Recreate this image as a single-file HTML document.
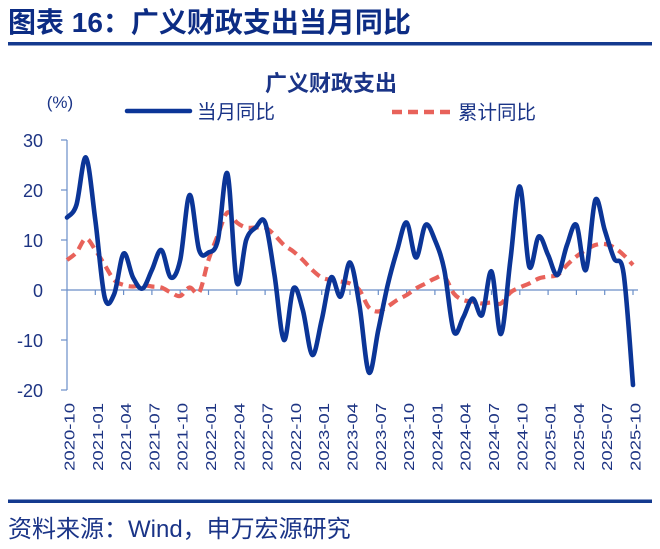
<!DOCTYPE html>
<html>
<head>
<meta charset="utf-8">
<style>
html,body{margin:0;padding:0;background:#fff;}
body{width:660px;height:549px;overflow:hidden;}
svg{display:block;}
text{font-family:"Liberation Sans","Noto Sans CJK SC",sans-serif;}
</style>
</head>
<body>
<svg width="660" height="549" viewBox="0 0 660 549" xmlns="http://www.w3.org/2000/svg">
<rect width="660" height="549" fill="#fff"/>
<!-- header -->
<text x="8" y="32" font-size="28" font-weight="bold" fill="#0c2c84">图表 16：广义财政支出当月同比</text>
<rect x="8" y="42" width="644" height="3.5" fill="#143a8f"/>

<!-- chart title -->
<text x="331" y="91" font-size="22" font-weight="bold" fill="#1a3487" text-anchor="middle">广义财政支出</text>
<text x="60" y="108" font-size="17" fill="#1a3487" text-anchor="middle">(%)</text>

<!-- legend -->
<line x1="127" y1="111" x2="190" y2="111" stroke="#0b3597" stroke-width="4.5" stroke-linecap="round"/>
<text x="197" y="118.5" font-size="19.5" fill="#1a3487">当月同比</text>
<line x1="392" y1="112" x2="453" y2="112" stroke="#e8625a" stroke-width="4.5" stroke-dasharray="10,6"/>
<text x="458" y="119" font-size="19.5" fill="#1a3487">累计同比</text>

<!-- y axis -->
<g stroke="#6a8ec8" stroke-width="1.2" fill="none">
<line x1="67" y1="140" x2="67" y2="390"/>
<line x1="61" y1="140" x2="67" y2="140"/>
<line x1="61" y1="190" x2="67" y2="190"/>
<line x1="61" y1="240" x2="67" y2="240"/>
<line x1="61" y1="290" x2="67" y2="290"/>
<line x1="61" y1="340" x2="67" y2="340"/>
<line x1="61" y1="390" x2="67" y2="390"/>
<line x1="67" y1="290" x2="638" y2="290"/>
<line x1="95.3" y1="290" x2="95.3" y2="295"/>
<line x1="123.6" y1="290" x2="123.6" y2="295"/>
<line x1="151.9" y1="290" x2="151.9" y2="295"/>
<line x1="180.2" y1="290" x2="180.2" y2="295"/>
<line x1="208.5" y1="290" x2="208.5" y2="295"/>
<line x1="236.8" y1="290" x2="236.8" y2="295"/>
<line x1="265.1" y1="290" x2="265.1" y2="295"/>
<line x1="293.4" y1="290" x2="293.4" y2="295"/>
<line x1="321.7" y1="290" x2="321.7" y2="295"/>
<line x1="350.0" y1="290" x2="350.0" y2="295"/>
<line x1="378.3" y1="290" x2="378.3" y2="295"/>
<line x1="406.6" y1="290" x2="406.6" y2="295"/>
<line x1="434.9" y1="290" x2="434.9" y2="295"/>
<line x1="463.2" y1="290" x2="463.2" y2="295"/>
<line x1="491.5" y1="290" x2="491.5" y2="295"/>
<line x1="519.8" y1="290" x2="519.8" y2="295"/>
<line x1="548.1" y1="290" x2="548.1" y2="295"/>
<line x1="576.4" y1="290" x2="576.4" y2="295"/>
<line x1="604.7" y1="290" x2="604.7" y2="295"/>
<line x1="633.0" y1="290" x2="633.0" y2="295"/>
</g>
<g font-size="18" fill="#1d3483" text-anchor="end">
<text x="43" y="147">30</text>
<text x="43" y="197">20</text>
<text x="43" y="247">10</text>
<text x="43" y="297">0</text>
<text x="43" y="347">-10</text>
<text x="43" y="397">-20</text>
</g>

<!-- x labels -->
<g font-size="18.5" fill="#1d3483" text-anchor="end">
<text transform="translate(74.5,403) rotate(-90) scale(1,0.78)">2020-10</text>
<text transform="translate(102.8,403) rotate(-90) scale(1,0.78)">2021-01</text>
<text transform="translate(131.1,403) rotate(-90) scale(1,0.78)">2021-04</text>
<text transform="translate(159.4,403) rotate(-90) scale(1,0.78)">2021-07</text>
<text transform="translate(187.7,403) rotate(-90) scale(1,0.78)">2021-10</text>
<text transform="translate(216,403) rotate(-90) scale(1,0.78)">2022-01</text>
<text transform="translate(244.3,403) rotate(-90) scale(1,0.78)">2022-04</text>
<text transform="translate(272.6,403) rotate(-90) scale(1,0.78)">2022-07</text>
<text transform="translate(300.9,403) rotate(-90) scale(1,0.78)">2022-10</text>
<text transform="translate(329.2,403) rotate(-90) scale(1,0.78)">2023-01</text>
<text transform="translate(357.5,403) rotate(-90) scale(1,0.78)">2023-04</text>
<text transform="translate(385.8,403) rotate(-90) scale(1,0.78)">2023-07</text>
<text transform="translate(414.1,403) rotate(-90) scale(1,0.78)">2023-10</text>
<text transform="translate(442.4,403) rotate(-90) scale(1,0.78)">2024-01</text>
<text transform="translate(470.7,403) rotate(-90) scale(1,0.78)">2024-04</text>
<text transform="translate(499,403) rotate(-90) scale(1,0.78)">2024-07</text>
<text transform="translate(527.3,403) rotate(-90) scale(1,0.78)">2024-10</text>
<text transform="translate(555.6,403) rotate(-90) scale(1,0.78)">2025-01</text>
<text transform="translate(583.9,403) rotate(-90) scale(1,0.78)">2025-04</text>
<text transform="translate(612.2,403) rotate(-90) scale(1,0.78)">2025-07</text>
<text transform="translate(640.5,403) rotate(-90) scale(1,0.78)">2025-10</text>
</g>

<!-- series: cumulative (red dashed) -->
<polyline class="s" fill="none" stroke="#e8625a" stroke-width="4.2" stroke-dasharray="10,6" stroke-linejoin="round" points="67.0,260 76.4,252.5 85.9,238.5 95.3,250 104.7,265 114.2,280 123.6,285 133.0,286.5 142.5,285 151.9,286.5 161.3,287.5 170.8,292.5 180.2,296 189.6,287.5 199.1,292.5 208.5,260 217.9,235 227.4,212.5 236.8,222.5 246.2,227.5 255.7,227.5 265.1,227.5 274.5,235 284.0,245 293.4,251.5 302.8,260 312.3,270 321.7,277.5 331.1,280 340.6,281.5 350.0,283.5 359.4,290 368.9,307.5 378.3,311.5 387.7,306.5 397.2,300 406.6,295 416.0,288.5 425.5,283.5 434.9,278.5 444.3,276.5 453.8,293.5 463.2,300 472.6,301.5 482.1,303.5 491.5,302.5 500.9,303.5 510.4,292.5 519.8,287.5 529.2,283.5 538.7,278.5 548.1,276.5 557.5,275 567.0,265 576.4,256.5 585.8,250 595.3,245 604.7,244 614.1,247.5 623.6,255 633.0,265"/>

<!-- series: monthly (blue solid) -->
<polyline class="s" fill="none" stroke="#0b3597" stroke-width="4.6" stroke-linejoin="round" stroke-linecap="round" points="67.0,217.5 76.4,205 85.9,157.5 95.3,220 104.7,297.5 114.2,294 123.6,253.5 133.0,277.5 142.5,288.5 151.9,270 161.3,250 170.8,277.5 180.2,260 189.6,195 199.1,250 208.5,252.5 217.9,240 227.4,173.5 236.8,282.5 246.2,240 255.7,227.5 265.1,222.5 274.5,275 284.0,340 293.4,288.5 302.8,310 312.3,355 321.7,320 331.1,277.5 340.6,296.5 350.0,262.5 359.4,305 368.9,372.5 378.3,330 387.7,285 397.2,250 406.6,222.5 416.0,257.5 425.5,225 434.9,240 444.3,270 453.8,331.5 463.2,317.5 472.6,298.5 482.1,315 491.5,271.5 500.9,334 510.4,260 519.8,186.5 529.2,266.5 538.7,236.5 548.1,255 557.5,275 567.0,245 576.4,225 585.8,270 595.3,200 604.7,230 614.1,258.5 623.6,273.5 633.0,385"/>

<!-- footer -->
<rect x="8" y="499.5" width="644" height="3.5" fill="#143a8f"/>
<text x="8" y="537" font-size="24" fill="#1a3487">资料来源：Wind，申万宏源研究</text>
</svg>
<script>
(function(){
var ns='http://www.w3.org/2000/svg';
var list=document.querySelectorAll('polyline.s');
for(var n=0;n<list.length;n++){
 var pl=list[n];
 var nums=pl.getAttribute('points').trim().split(/[\s,]+/).map(Number);
 var p=[];for(var i=0;i<nums.length;i+=2)p.push([nums[i],nums[i+1]]);
 var d='M'+p[0][0]+','+p[0][1];
 for(var i=0;i<p.length-1;i++){
  var a=p[i-1]||p[i],b=p[i],c=p[i+1],e=p[i+2]||c;
  d+=' C'+(b[0]+(c[0]-a[0])/6).toFixed(2)+','+(b[1]+(c[1]-a[1])/6).toFixed(2)+' '+(c[0]-(e[0]-b[0])/6).toFixed(2)+','+(c[1]-(e[1]-b[1])/6).toFixed(2)+' '+c[0]+','+c[1];
 }
 var path=document.createElementNS(ns,'path');
 for(var k=0;k<pl.attributes.length;k++){var at=pl.attributes[k];if(at.name!=='points'&&at.name!=='class')path.setAttribute(at.name,at.value);}
 path.setAttribute('d',d);
 pl.parentNode.replaceChild(path,pl);
}
})();
</script>
</body>
</html>
